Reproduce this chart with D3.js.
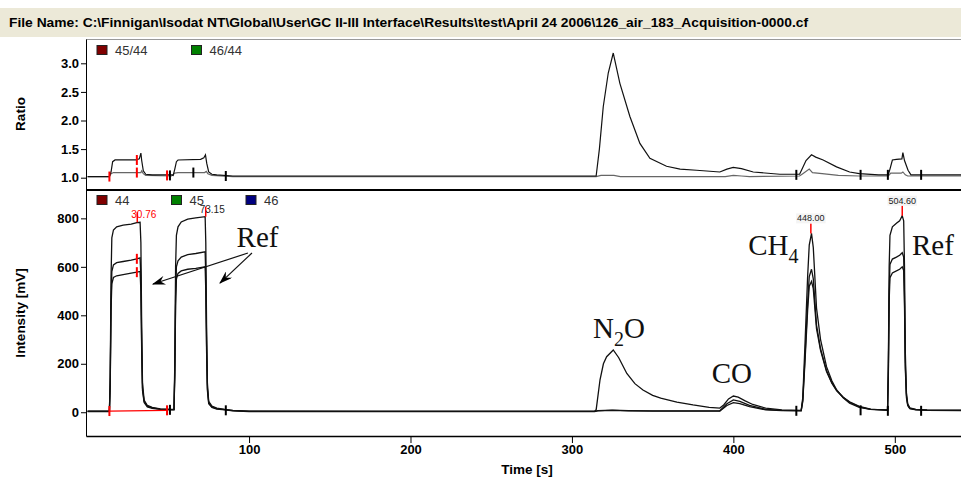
<!DOCTYPE html>
<html>
<head>
<meta charset="utf-8">
<script src="https://cdn.jsdelivr.net/npm/d3@7"></script>
<style>
  body { margin: 0; background: #fff; }
  svg text { font-family: Arial, "Liberation Sans", sans-serif; }
</style>
</head>
<body>
<script>
// ---- data ----
var fileName = "File Name: C:\\Finnigan\\Isodat NT\\Global\\User\\GC II-III Interface\\Results\\test\\April 24 2006\\126_air_183_Acquisition-0000.cf";

var ratioTicks = [1.0, 1.5, 2.0, 2.5, 3.0];
var intensityTicks = [0, 200, 400, 600, 800];
var timeTicks = [100, 200, 300, 400, 500];

var ratioNames = ["45/44", "46/44"];
var traceNames = ["44", "45", "46"];
var legendColors = ["#800000", "#008000", "#000080"];

// [time s, ratio]
var ratio45 = [[0,1.02],[13.5,1.02],[14.5,1.1],[15.5,1.28],[17,1.31],[30,1.31],[32,1.33],[33,1.43],[33.5,1.3],[34.5,1.12],[36,1.06],[40,1.05],[52,1.05],[53,1.04],[54,1.15],[55,1.28],[56,1.31],[70,1.32],[72,1.35],[73,1.4],[73.8,1.25],[75,1.1],[77,1.06],[80,1.05],[90,1.03],[150,1.03],[315,1.03],[317,1.5],[319.4,2.24],[322.5,2.83],[325.6,3.18],[329.7,2.65],[335.9,2.07],[342.1,1.6],[348.3,1.34],[358.6,1.2],[367,1.15],[377.2,1.13],[391.6,1.1],[396,1.15],[399.9,1.18],[405,1.16],[412.3,1.1],[428.8,1.06],[441,1.06],[442.2,1.13],[445,1.3],[448.4,1.4],[451,1.36],[455.6,1.31],[463.9,1.19],[472,1.1],[478,1.07],[490,1.05],[495.9,1.05],[497,1.15],[498.5,1.31],[501,1.32],[504.4,1.33],[505,1.44],[506,1.3],[508.2,1.13],[510,1.05],[541,1.05]];
var ratio46 = [[0,1.02],[13.5,1.02],[14.5,1.07],[16,1.09],[33,1.09],[33.5,1.12],[34.5,1.07],[36,1.04],[52,1.03],[54,1.08],[56,1.09],[72.5,1.09],[73.5,1.11],[74.5,1.07],[77,1.04],[90,1.02],[315,1.02],[318,1.04],[326,1.04],[330,1.02],[395,1.02],[400,1.04],[405,1.03],[410,1.02],[441,1.03],[443,1.07],[447,1.15],[449,1.09],[455,1.07],[465,1.04],[478,1.03],[496,1.03],[497.5,1.08],[504,1.08],[505,1.1],[506.5,1.05],[508,1.03],[541,1.03]];

// [time s, intensity mV]
var trace44 = [[0,5],[13.5,5],[14,150],[14.5,550],[15,720],[16,752],[18,765],[22,772],[27,776],[30.5,782],[32.5,784],[33,700],[33.5,350],[34,120],[35,50],[37,28],[40,20],[45,14],[52,12],[53.5,12],[54,200],[54.5,600],[55,730],[56,765],[58,785],[62,797],[67,802],[72.8,807],[73.2,700],[73.7,350],[74.2,120],[75,45],[77,25],[80,17],[85,12],[90,8],[100,5],[180,4],[314,4],[315,10],[317.4,134],[319.5,200],[321.5,229],[325.6,257],[329,225],[334,160],[339,118],[344,92],[350,70],[355,58],[365,42],[375,30],[385,20],[391.6,17],[394,30],[397,55],[400,67],[403,62],[407,48],[412,32],[420,17],[430,10],[442,8],[443,60],[444.3,270],[446,560],[447,690],[448.4,738],[449.5,680],[451.5,430],[454,300],[457.7,188],[461,130],[464,92],[468,60],[472,37],[478,20],[485,12],[495.5,10],[496,200],[496.5,600],[497,730],[498.5,765],[501,780],[503,790],[504.6,811],[505.5,790],[506,600],[506.5,250],[507.2,80],[508,35],[509.3,18],[513,12],[520,10],[541,9]];
var trace45 = [[0,4],[13.5,4],[14,120],[14.5,450],[15,580],[16,608],[18,617],[22,622],[27,628],[30.5,633],[32.5,637],[33,560],[33.5,280],[34,100],[35,45],[37,25],[40,18],[45,13],[52,11],[53.5,11],[54,160],[54.5,480],[55,600],[56,625],[58,640],[62,650],[67,655],[72.8,662],[73.2,560],[73.7,280],[74.2,100],[75,40],[77,22],[80,15],[85,11],[90,7],[100,4],[314,4],[316,7],[325,9],[335,7],[350,6],[391.6,6],[396,35],[400,51],[404,45],[410,28],[420,12],[430,8],[442,7],[443,50],[444.3,220],[446,450],[447,560],[448.4,590],[449.5,550],[451.5,360],[454,262],[457.7,172],[461,122],[464,90],[468,62],[472,41],[478,22],[485,12],[495.5,9],[496,170],[496.5,500],[497,610],[498.5,632],[501,640],[503,648],[504.6,658],[505.5,640],[506,480],[506.5,200],[507.2,70],[508,30],[509.3,16],[513,11],[520,9],[541,8]];
var trace46 = [[0,3],[13.5,3],[14,110],[14.5,420],[15,530],[16,556],[18,563],[22,568],[27,574],[30.5,578],[32.5,581],[33,500],[33.5,250],[34,90],[35,40],[37,22],[40,16],[45,12],[52,10],[53.5,10],[54,150],[54.5,440],[55,550],[56,573],[58,583],[62,590],[67,594],[72.8,600],[73.2,500],[73.7,250],[74.2,90],[75,35],[77,20],[80,13],[85,10],[90,6],[100,3],[314,3],[316,6],[325,8],[335,6],[350,5],[391.6,5],[396,28],[400,40],[404,36],[410,23],[420,10],[430,7],[442,6],[443,45],[444.3,200],[446,420],[447,520],[448.4,540],[449.5,510],[451.5,345],[454,255],[457.7,168],[461,120],[464,88],[468,62],[472,43],[478,24],[485,13],[495.5,8],[496,150],[496.5,460],[497,555],[498.5,575],[501,583],[503,590],[504.6,600],[505.5,585],[506,440],[506.5,180],[507.2,60],[508,28],[509.3,15],[513,10],[520,8],[541,7]];

// peak marks [time, label, apex intensity]
var peakLabels = [[30.76, "30.76", 784], [73.15, "73.15", 807], [448.0, "448.00", 738], [504.6, "504.60", 811]];
// integration marks [time, ratio value, intensity value, colour]
var startEndMarks = [[13.5,1.02,5,"red"],[49.2,1.04,8,"red"],[51,1.04,10,"black"],[65.5,1.09,null,"black"],[85.6,1.03,8,"black"],[439,1.05,6,"black"],[478.8,1.05,8,"black"],[495.7,1.05,6,"black"],[516.3,1.05,6,"black"]];
var refBaseline = [[13.5,5],[49.2,8]];

// ---- layout ----
var width = 961, height = 477;
var svg = d3.select("body").append("svg")
    .attr("width", width)
    .attr("height", height);

var x = d3.scaleLinear().domain([-1, 541]).range([86, 961]);
var yR = d3.scaleLinear().domain([0.785, 3.425]).range([190, 39]);
var yI = d3.scaleLinear().domain([-98, 917]).range([436, 190]);

// title bar
svg.append("rect")
    .attr("x", 0).attr("y", 8)
    .attr("width", width).attr("height", 29)
    .attr("fill", "#ece9d8");
svg.append("text")
    .attr("x", 9).attr("y", 27)
    .attr("font-weight", "bold")
    .attr("font-size", "12.5px")
    .attr("textLength", 799)
    .attr("lengthAdjust", "spacingAndGlyphs")
    .text(fileName);

// clip areas
var defs = svg.append("defs");
defs.append("clipPath").attr("id", "clipTop").append("rect")
    .attr("x", 86).attr("y", 39).attr("width", 875).attr("height", 151);
defs.append("clipPath").attr("id", "clipBot").append("rect")
    .attr("x", 86).attr("y", 191).attr("width", 875).attr("height", 245);
defs.append("marker")
    .attr("id", "arrow")
    .attr("viewBox", "0 0 12 8")
    .attr("refX", 11).attr("refY", 4)
    .attr("markerWidth", 14).attr("markerHeight", 9)
    .attr("markerUnits", "userSpaceOnUse")
    .attr("orient", "auto")
    .append("path")
    .attr("d", "M0,0 L12,4 L0,8 L4,4 Z")
    .attr("fill", "#000");

// panel frame lines
svg.append("line")
    .attr("x1", 86).attr("x2", 961).attr("y1", 39.5).attr("y2", 39.5)
    .style("stroke", "#999").style("stroke-width", 1);
svg.append("line")
    .attr("x1", 86).attr("x2", 961).attr("y1", 190).attr("y2", 190)
    .style("stroke", "#000").style("stroke-width", 2);

// axes
function styleAxis(g) {
    g.attr("font-family", null).attr("font-size", null);
    g.selectAll("text")
        .attr("font-size", "13px")
        .attr("font-weight", "bold")
        .attr("fill", "#000");
    g.selectAll("line").style("stroke", "#000");
    g.select(".domain").style("stroke", "#000");
}

svg.append("g")
    .attr("transform", "translate(86,0)")
    .call(d3.axisLeft(yR).tickValues(ratioTicks).tickFormat(d3.format(".1f")).tickSize(5).tickSizeOuter(0).tickPadding(2))
    .call(styleAxis);

svg.append("g")
    .attr("transform", "translate(86,0)")
    .call(d3.axisLeft(yI).tickValues(intensityTicks).tickFormat(d3.format("d")).tickSize(5).tickSizeOuter(0).tickPadding(2))
    .call(styleAxis);

svg.append("g")
    .attr("transform", "translate(0,436)")
    .call(d3.axisBottom(x).tickValues(timeTicks).tickFormat(d3.format("d")).tickSize(7).tickSizeOuter(0).tickPadding(2))
    .call(styleAxis)
    .select(".domain").style("stroke-width", 1.5);

// axis titles
svg.append("text")
    .attr("transform", "translate(25,114) rotate(-90)")
    .attr("text-anchor", "middle")
    .attr("font-weight", "bold").attr("font-size", "13.5px")
    .text("Ratio");
svg.append("text")
    .attr("transform", "translate(25,313) rotate(-90)")
    .attr("text-anchor", "middle")
    .attr("font-weight", "bold").attr("font-size", "13.5px")
    .text("Intensity [mV]");
svg.append("text")
    .attr("x", 527).attr("y", 474)
    .attr("text-anchor", "middle")
    .attr("font-weight", "bold").attr("font-size", "13.5px")
    .text("Time [s]");

// traces
var lineR = d3.line()
    .x(function(d) { return x(d[0]); })
    .y(function(d) { return yR(d[1]); });
var lineI = d3.line()
    .x(function(d) { return x(d[0]); })
    .y(function(d) { return yI(d[1]); });

var topG = svg.append("g").attr("clip-path", "url(#clipTop)");
topG.selectAll("path.ratio")
    .data([ratio46, ratio45])
    .enter().append("path")
    .attr("class", "ratio")
    .attr("d", lineR)
    .style("fill", "none")
    .style("stroke", function(d, i) { return i == 0 ? "#666" : "#111"; })
    .style("stroke-width", "1.2px");

var botG = svg.append("g").attr("clip-path", "url(#clipBot)");
botG.selectAll("path.trace")
    .data([trace46, trace45, trace44])
    .enter().append("path")
    .attr("class", "trace")
    .attr("d", lineI)
    .style("fill", "none")
    .style("stroke", "#111")
    .style("stroke-width", "1.3px");

// red reference baseline
botG.append("path")
    .attr("d", lineI(refBaseline))
    .style("fill", "none").style("stroke", "red").style("stroke-width", "1.2px");

// integration start/end marks
startEndMarks.forEach(function(m) {
    topG.append("line")
        .attr("x1", x(m[0])).attr("x2", x(m[0]))
        .attr("y1", yR(m[1]) - 5).attr("y2", yR(m[1]) + 5)
        .style("stroke", m[3]).style("stroke-width", 2);
    if (m[2] !== null) {
        botG.append("line")
            .attr("x1", x(m[0])).attr("x2", x(m[0]))
            .attr("y1", yI(m[2]) - 5).attr("y2", yI(m[2]) + 5)
            .style("stroke", m[3]).style("stroke-width", 2);
    }
});
// red marks on the first reference plateau
[[30.5, 1.31], [30.5, 1.09]].forEach(function(m) {
    topG.append("line")
        .attr("x1", x(m[0])).attr("x2", x(m[0]))
        .attr("y1", yR(m[1]) - 5).attr("y2", yR(m[1]) + 5)
        .style("stroke", "red").style("stroke-width", 2);
});
[[30.5, 633], [30.5, 578]].forEach(function(m) {
    botG.append("line")
        .attr("x1", x(m[0])).attr("x2", x(m[0]))
        .attr("y1", yI(m[1]) - 5).attr("y2", yI(m[1]) + 5)
        .style("stroke", "red").style("stroke-width", 2);
});

// legends
var legTop = svg.append("g");
ratioNames.forEach(function(n, i) {
    var lx = 97 + i * 94.5;
    legTop.append("rect")
        .attr("x", lx).attr("y", 45.5).attr("width", 10).attr("height", 9)
        .attr("fill", legendColors[i]).attr("stroke", "#222");
    legTop.append("text")
        .attr("x", lx + 18).attr("y", 55)
        .attr("font-size", "13px").attr("fill", "#333")
        .text(n);
});
var legBot = svg.append("g");
traceNames.forEach(function(n, i) {
    var lx = 97 + i * 74.5;
    legBot.append("rect")
        .attr("x", lx).attr("y", 195.5).attr("width", 10).attr("height", 9)
        .attr("fill", legendColors[i]).attr("stroke", "#222");
    legBot.append("text")
        .attr("x", lx + 18).attr("y", 205)
        .attr("font-size", "13px").attr("fill", "#333")
        .text(n);
});

// peak top labels (first two nudged clear of the legend text)
var labG = svg.append("g");
peakLabels.forEach(function(p, i) {
    var px = x(p[0]), py = yI(p[2]);
    labG.append("line")
        .attr("x1", px).attr("x2", px)
        .attr("y1", py).attr("y2", py - 10)
        .style("stroke", "red").style("stroke-width", 1.5);
    var bg = labG.append("rect").attr("fill", i >= 2 ? "#f4f4f4" : "none");
    var t = labG.append("text")
        .attr("x", i < 2 ? px - 6 : px).attr("y", i < 2 ? py - 4 : py - 12)
        .attr("text-anchor", i < 2 ? "start" : "middle")
        .attr("font-size", i < 2 ? "10px" : "9px")
        .attr("fill", i == 0 ? "red" : "#222")
        .text(p[1]);
    var bb = t.node().getBBox();
    bg.attr("x", bb.x - 1).attr("y", bb.y)
        .attr("width", bb.width + 2).attr("height", bb.height);
});

// annotations (serif, like the pasted labels)
var serif = "'Liberation Serif', 'Times New Roman', 'DejaVu Serif', serif";
function ann(t, v, main, sub, tail) {
    var txt = svg.append("text")
        .attr("x", x(t)).attr("y", yI(v))
        .style("font-family", serif)
        .attr("font-size", "29px")
        .attr("fill", "#111");
    txt.append("tspan").text(main);
    if (sub) {
        txt.append("tspan").attr("dy", 8).attr("font-size", "20px").text(sub);
        if (tail) txt.append("tspan").attr("dy", -8).text(tail);
    }
}
ann(92.3, 683, "Ref");
ann(510.6, 649, "Ref");
ann(409.2, 649, "CH", "4");
ann(313.1, 306, "N", "2", "O");
ann(386.6, 121, "CO");

var arrows = [[[99.3, 657], [40.5, 529]], [[101.8, 657], [82, 533]]];
arrows.forEach(function(a) {
    svg.append("line")
        .attr("x1", x(a[0][0])).attr("y1", yI(a[0][1]))
        .attr("x2", x(a[1][0])).attr("y2", yI(a[1][1]))
        .style("stroke", "#111").style("stroke-width", 1.2)
        .attr("marker-end", "url(#arrow)");
});
</script>
</body>
</html>
